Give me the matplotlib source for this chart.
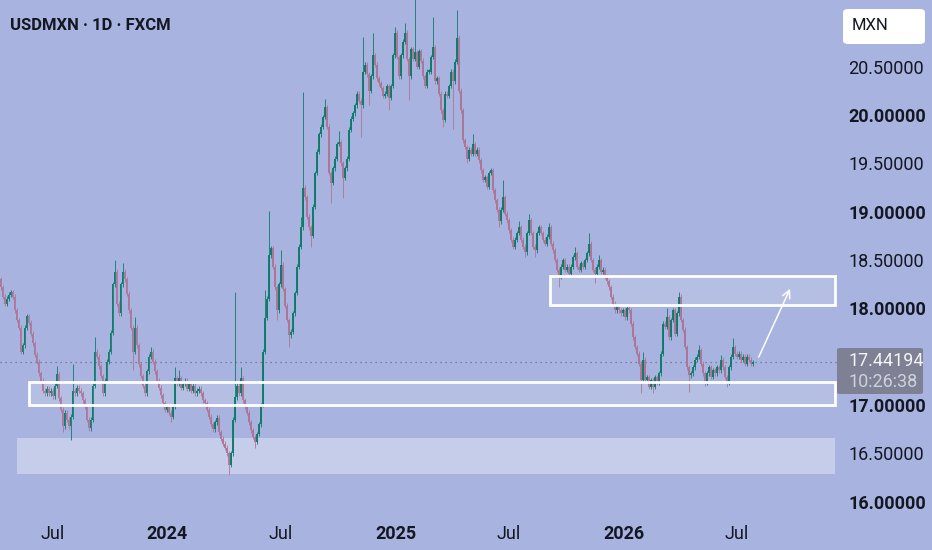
import numpy as np
import pandas as pd
import matplotlib
matplotlib.use("Agg")
import matplotlib.pyplot as plt
import matplotlib.dates as mdates
from matplotlib.patches import Rectangle, FancyBboxPatch

plt.rcParams['font.family'] = ['Roboto', 'DejaVu Sans']

# ---------------- data ----------------
first_date = "2023-04-09"
last_date = "2026-07-27"

closes = [
    # Apr 2023 - ...
    18.22, 18.12, 18.05, 18.10, 18.14, 18.17, 18.12, 17.98, 17.88, 17.80,
    17.55, 17.62, 17.80, 17.92, 17.85, 17.74, 17.64, 17.52, 17.45, 17.33,
    17.25, 17.15, 17.12, 17.17, 17.12, 17.15, 17.09, 17.20, 17.32, 17.07,
    16.95, 16.78, 16.92, 16.85, 16.78, 16.88, 17.15, 17.12, 17.18, 17.15,
    17.12, 17.05, 16.98, 16.85, 16.76, 16.85, 17.20, 17.55, 17.50, 17.40,
    17.30, 17.12, 17.25, 17.45, 17.55, 17.75, 18.25, 18.38, 18.05, 17.95,
    18.25, 18.38, 18.30, 18.15, 17.98, 17.80, 17.55, 17.80, 17.62, 17.42,
    17.30, 17.20, 17.12, 17.35, 17.50, 17.55, 17.45, 17.35, 17.25, 17.18,
    17.10, 17.02, 16.95, 16.98, 16.92, 16.88, 16.98, 17.28, 17.22, 17.28,
    17.18, 17.22, 17.25, 17.17, 17.22, 17.15, 17.20, 17.12, 17.15, 17.17,
    17.12, 17.05, 17.02, 16.95, 16.88, 16.80, 16.75, 16.82, 16.87, 16.72,
    16.65, 16.60, 16.56, 16.50, 16.38, 16.50, 16.85, 17.08, 17.20, 17.12,
    # segment B
    17.28, 17.05, 16.98, 16.92, 16.82, 16.74, 16.67, 16.62, 16.70, 16.80,
    17.00, 17.55, 17.90, 18.10, 18.55, 18.62, 18.43, 18.22, 17.98, 18.25,
    18.45, 18.20, 18.03, 17.88, 17.72, 17.76, 17.95, 18.16, 18.43, 18.64,
    18.84, 19.25, 19.15, 18.95, 18.84, 18.75, 19.05, 19.40, 19.62, 19.80,
    19.88, 19.98, 20.08, 19.88, 19.40, 19.30, 19.45, 19.55, 19.70, 19.72,
    19.50, 19.35, 19.45, 19.55, 19.85, 19.96, 20.02, 20.10, 20.22, 20.15,
    20.10, 20.45, 20.52, 20.42, 20.25, 20.40, 20.62, 20.52, 20.38, 20.33,
    20.28, 20.20, 20.22, 20.30, 20.18, 20.30, 20.62, 20.85, 20.60, 20.40,
    20.62, 20.76, 20.85, 20.58, 20.40, 20.68, 20.58, 20.65, 20.50, 20.66,
    20.56, 20.40, 20.30, 20.45, 20.45, 20.60, 20.70, 20.35, 20.38, 20.22,
    # segment C
    20.05, 19.95, 20.22, 20.20, 20.30, 20.45, 20.35, 20.55, 20.80, 20.25,
    20.05, 19.74, 19.67, 19.55, 19.64, 19.60, 19.70, 19.60, 19.64, 19.53,
    19.43, 19.33, 19.36, 19.26, 19.40, 19.43, 19.22, 19.12, 19.02, 18.90,
    19.02, 19.15, 18.98, 18.91, 18.81, 18.71, 18.64, 18.71, 18.78, 18.84,
    18.71, 18.64, 18.58, 18.78, 18.91, 18.78, 18.64, 18.60, 18.78, 18.84,
    18.78, 18.71, 18.67, 18.74, 18.84, 18.67, 18.60, 18.50, 18.40, 18.33,
    18.43, 18.50, 18.40, 18.43, 18.36, 18.43, 18.53, 18.57, 18.43, 18.40,
    18.47, 18.43, 18.50, 18.57, 18.67, 18.50, 18.40, 18.36, 18.43, 18.50,
    18.38, 18.40, 18.33, 18.28, 18.22, 18.12, 18.05, 17.98, 18.02, 17.98,
    # segment D
    17.95, 17.98, 17.91, 18.00, 17.98, 17.84, 17.70, 17.60, 17.53, 17.43,
    17.26, 17.47, 17.26, 17.29, 17.19, 17.26, 17.19, 17.29, 17.23, 17.33,
    17.53, 17.84, 17.81, 17.91, 17.70, 17.88, 17.98, 17.74, 17.95, 18.12,
    17.88, 17.78, 17.60, 17.39, 17.31, 17.33, 17.39, 17.47, 17.50, 17.57,
    17.43, 17.33, 17.23, 17.33, 17.39, 17.29, 17.36, 17.33, 17.39, 17.36,
    17.47, 17.39, 17.29, 17.23, 17.39, 17.50, 17.60, 17.53, 17.50, 17.53,
    17.47, 17.50, 17.43, 17.50, 17.47, 17.43, 17.44194,
]
first_open = 18.30

# wick extremes (candle index -> price)
spike_high_idx = [28, 36, 47, 57, 61, 67, 75, 87, 89, 117, 120, 132, 134, 140,
                  150, 151, 162, 169, 181, 186, 197, 202, 207, 216, 228, 236,
                  251, 259, 264, 274, 287, 294, 299, 321, 333, 339, 349, 360, 366]
spike_high_val = [17.40, 17.43, 17.70, 18.50, 18.47, 17.91, 17.60, 17.39, 17.36,
                  18.17, 17.39, 18.19, 19.01, 18.60, 18.95, 20.24, 20.17, 19.84,
                  20.81, 20.85, 20.91, 20.95, 21.25, 21.01, 21.09, 19.80, 19.33,
                  18.90, 18.98, 18.88, 18.64, 18.78, 18.55, 17.55, 18.00, 18.17,
                  17.62, 17.52, 17.69]
spike_low_idx = [31, 35, 66, 85, 114, 127, 138, 144, 155, 165, 171, 180, 184,
                 194, 204, 221, 226, 233, 249, 262, 267, 279, 297, 320, 326,
                 344, 352, 363]
spike_low_val = [16.72, 16.64, 17.36, 16.82, 16.28, 16.56, 17.88, 17.60, 18.63,
                 19.09, 19.14, 19.77, 20.10, 20.05, 20.16, 19.88, 19.86, 19.50,
                 18.84, 18.53, 18.53, 18.22, 18.26, 17.12, 17.12, 17.14, 17.20,
                 17.19]

last_price_text = "17.44194"
countdown_text = "10:26:38"

y_ticks = [16.0, 16.5, 17.0, 18.0, 18.5, 19.0, 19.5, 20.0, 20.5]
x_tick_dates = ["2023-07-01", "2024-01-01", "2024-07-01", "2025-01-01",
                "2025-07-01", "2026-01-01", "2026-07-01"]
x_tick_labels = ["Jul", "2024", "Jul", "2025", "Jul", "2026", "Jul"]

# zones: (start date, low price, high price)
zone_support = ("2023-05-24", 17.00, 17.24)
zone_target = ("2025-09-04", 18.04, 18.34)
zone_deep = ("2023-05-05", 16.285, 16.657)
arrow_start = ("2026-08-03", 17.47)
arrow_end = ("2026-09-26", 18.23)

# ---------------- figure ----------------
BG = "#a9b3df"
UP = "#0c7a6a"
DOWN = "#ad7596"
TXT = "#131722"

W, H = 932, 550
fig = plt.figure(figsize=(W / 100, H / 100), dpi=100, facecolor=BG)
ax = fig.add_axes([0, 1 - 515 / H, 835 / W, 515 / H])
ax.set_facecolor(BG)
for s in ax.spines.values():
    s.set_visible(False)

dates = pd.date_range(first_date, last_date, periods=len(closes))
xd = mdates.date2num(dates)
c = np.array(closes)
o = np.concatenate([[first_open], c[:-1]])
top = np.maximum(o, c)
bot = np.minimum(o, c)
pad = 0.025
hi = top + pad
lo = bot - pad
for i, v in zip(spike_high_idx, spike_high_val):
    hi[i] = max(hi[i], v)
for i, v in zip(spike_low_idx, spike_low_val):
    lo[i] = min(lo[i], v)

up = c >= o
cols = np.where(up, UP, DOWN)
step = xd[1] - xd[0]
ax.vlines(xd, lo, hi, colors=cols, linewidth=0.7, alpha=0.85, zorder=3)
body_h = np.maximum(top - bot, 0.012)
ax.bar(xd, body_h, bottom=bot, width=step * 0.75, color=cols,
       linewidth=0, alpha=0.95, zorder=4)

xlim = (mdates.date2num(pd.Timestamp("2023-04-08")),
        mdates.date2num(pd.Timestamp("2026-12-05")))
ax.set_xlim(*xlim)
ax.set_ylim(15.863, 21.19)

# zones
def zone(z, face, alpha, edge):
    x0 = mdates.date2num(pd.Timestamp(z[0]))
    r = Rectangle((x0, z[1]), xlim[1] - x0, z[2] - z[1], facecolor=face,
                  alpha=alpha, edgecolor="none", zorder=2)
    ax.add_patch(r)
    if edge:
        e = Rectangle((x0, z[1]), xlim[1] - x0 - 0.5, z[2] - z[1],
                      facecolor="none", edgecolor="white", linewidth=2.0,
                      zorder=5, clip_on=False)
        ax.add_patch(e)

zone(zone_deep, "white", 0.35, False)
zone(zone_support, "white", 0.15, True)
zone(zone_target, "white", 0.15, True)

# last price dotted line
ax.axhline(closes[-1], color="#6b6f80", linewidth=0.9, linestyle=(0, (1, 3)),
           zorder=1)
fig.add_artist(plt.Line2D([835 / W, 837 / W], [1 - 361.5 / H] * 2,
                          color="#6b6f80", linewidth=0.9, linestyle=(0, (1, 3))))

# arrow
ax.annotate("", xy=(mdates.date2num(pd.Timestamp(arrow_end[0])), arrow_end[1]),
            xytext=(mdates.date2num(pd.Timestamp(arrow_start[0])), arrow_start[1]),
            arrowprops=dict(arrowstyle="->", color="white", lw=1.1,
                            mutation_scale=14), zorder=6)

# axes ticks
ax.yaxis.tick_right()
ax.set_yticks(y_ticks)
ax.set_yticklabels([f"{v:.5f}" for v in y_ticks])
ax.tick_params(axis="y", length=0, pad=9.5, labelsize=13, labelcolor=TXT)
for lab, v in zip(ax.get_yticklabels(), y_ticks):
    if float(v).is_integer():
        lab.set_fontweight("bold")

ax.set_xticks([mdates.date2num(pd.Timestamp(d)) for d in x_tick_dates])
ax.set_xticklabels(x_tick_labels)
ax.tick_params(axis="x", length=0, pad=7, labelsize=13, labelcolor=TXT)
for lab, t in zip(ax.get_xticklabels(), x_tick_labels):
    if t.isdigit():
        lab.set_fontweight("bold")

# title
fig.text(10 / W, 1 - 25 / H, "USDMXN · 1D · FXCM", fontsize=12,
         fontweight="bold", color=TXT, va="center", ha="left")

# currency box
fig.add_artist(FancyBboxPatch((843 / W, 1 - 44 / H), 82 / W, 35 / H,
                              boxstyle="round,pad=0,rounding_size=0.006",
                              facecolor="white", edgecolor="none",
                              transform=fig.transFigure))
fig.text(852 / W, 1 - 26 / H, "MXN", fontsize=12, color=TXT, va="center",
         ha="left")

# last price label
fig.add_artist(FancyBboxPatch((837 / W, 1 - 394 / H), 86 / W, 46 / H,
                              boxstyle="round,pad=0,rounding_size=0.003",
                              facecolor="#7e8193", edgecolor="none",
                              transform=fig.transFigure))
fig.text(848 / W, 1 - 361 / H, last_price_text, fontsize=13, color="#f2f3f6",
         va="center", ha="left")
fig.text(848 / W, 1 - 382 / H, countdown_text, fontsize=13, color="#cfd1da",
         va="center", ha="left")

fig.savefig("out.png", dpi=100, facecolor=BG)
